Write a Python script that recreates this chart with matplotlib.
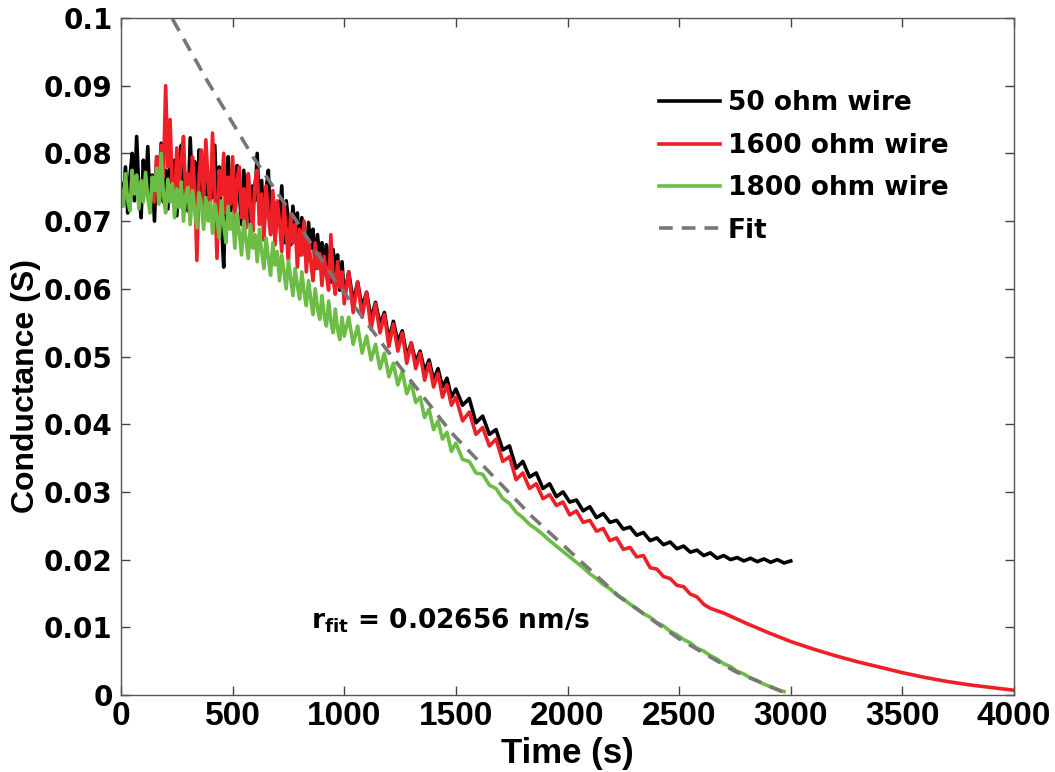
import numpy as np
import matplotlib
matplotlib.use('Agg')
import matplotlib.pyplot as plt

# --- datos ---
# 50 ohm: 0-1000 s cada 10 s, 1020-1500 s cada 20 s, 1530-3000 s cada 30 s
black_a = [0.0755, 0.0725, 0.0780, 0.0712, 0.0765, 0.0800, 0.0730, 0.0825, 0.0745, 0.0705, 0.0790,
           0.0740, 0.0810, 0.0720, 0.0768, 0.0700, 0.0795, 0.0752, 0.0815, 0.0728, 0.0775,
           0.0718, 0.0802, 0.0745, 0.0790, 0.0708, 0.0770, 0.0812, 0.0735, 0.0760, 0.0715,
           0.0823, 0.0742, 0.0788, 0.0710, 0.0805, 0.0750, 0.0725, 0.0798, 0.0702, 0.0770,
           0.0735, 0.0812, 0.0720, 0.0780, 0.0698, 0.0632, 0.0760, 0.0795, 0.0715, 0.0765,
           0.0705, 0.0782, 0.0740, 0.0695, 0.0775, 0.0720, 0.0768, 0.0690, 0.0752, 0.0730,
           0.0800, 0.0712, 0.0760, 0.0685, 0.0745, 0.0775, 0.0690, 0.0738, 0.0672, 0.0728,
           0.0695, 0.0752, 0.0668, 0.0730, 0.0700, 0.0665, 0.0722, 0.0680, 0.0712, 0.0650,
           0.0705, 0.0672, 0.0640, 0.0698, 0.0660, 0.0688, 0.0630, 0.0680, 0.0645, 0.0668,
           0.0622, 0.0665, 0.0640, 0.0610, 0.0658, 0.0625, 0.0650, 0.0598, 0.0640, 0.0588]
black_b = [0.0625, 0.0580, 0.0610, 0.0572, 0.0595, 0.0555, 0.0580, 0.0548, 0.0565, 0.0525,
           0.0552, 0.0522, 0.0538, 0.0500, 0.0520, 0.0492, 0.0508, 0.0478, 0.0495, 0.0465,
           0.0482, 0.0455, 0.0468, 0.0440, 0.0452]
black_c = [0.0428, 0.0438, 0.0402, 0.0412, 0.0385, 0.0392, 0.0362, 0.0368, 0.0335, 0.0345,
           0.0322, 0.0328, 0.0305, 0.0312, 0.0293, 0.0300, 0.0285, 0.0288, 0.0272, 0.0278,
           0.0262, 0.0268, 0.0255, 0.0258, 0.0245, 0.0248, 0.0236, 0.0240, 0.0228, 0.0232,
           0.0222, 0.0226, 0.0216, 0.0220, 0.0211, 0.0214, 0.0206, 0.0210, 0.0202, 0.0206,
           0.0200, 0.0203, 0.0198, 0.0202, 0.0197, 0.0201, 0.0196, 0.0200, 0.0195, 0.0198]

# 1600 ohm: 140-1000 s (10 s), 1020-1500 s (20 s), 1530-2610 s (30 s), 2700-4000 s (100 s)
red_a = [0.0760, 0.0728, 0.0795, 0.0740, 0.0812, 0.0765, 0.0900,
         0.0780, 0.0850, 0.0742, 0.0725, 0.0808, 0.0752, 0.0790, 0.0825, 0.0735, 0.0770,
         0.0712, 0.0795, 0.0750, 0.0642, 0.0768, 0.0805, 0.0728, 0.0820, 0.0760, 0.0715,
         0.0830, 0.0745, 0.0645, 0.0775, 0.0738, 0.0800, 0.0712, 0.0765, 0.0725, 0.0795,
         0.0700, 0.0762, 0.0780, 0.0705, 0.0748, 0.0690, 0.0770, 0.0722, 0.0685, 0.0758,
         0.0775, 0.0695, 0.0740, 0.0672, 0.0752, 0.0710, 0.0680, 0.0745, 0.0665, 0.0730,
         0.0700, 0.0655, 0.0728, 0.0682, 0.0642, 0.0710, 0.0668, 0.0695, 0.0632, 0.0688,
         0.0650, 0.0700, 0.0625, 0.0672, 0.0640, 0.0612, 0.0668, 0.0630, 0.0652, 0.0605,
         0.0648, 0.0620, 0.0598, 0.0680, 0.0615, 0.0592, 0.0640, 0.0602, 0.0625, 0.0578]
red_b = [0.0625, 0.0565, 0.0610, 0.0558, 0.0595, 0.0540, 0.0578, 0.0535, 0.0562, 0.0515,
         0.0548, 0.0508, 0.0535, 0.0490, 0.0520, 0.0482, 0.0505, 0.0465, 0.0490, 0.0455,
         0.0475, 0.0440, 0.0458, 0.0428, 0.0440]
red_c = [0.0405, 0.0418, 0.0385, 0.0395, 0.0368, 0.0378, 0.0345, 0.0352, 0.0318, 0.0328,
         0.0305, 0.0312, 0.0290, 0.0296, 0.0280, 0.0285, 0.0266, 0.0272, 0.0255, 0.0258,
         0.0242, 0.0246, 0.0228, 0.0232, 0.0215, 0.0218, 0.0204, 0.0206, 0.0188, 0.0186,
         0.0175, 0.0172, 0.0162, 0.0160, 0.0149, 0.0145, 0.0134, 0.0128]
red_d = [0.0121, 0.0106, 0.0092, 0.0079, 0.0068, 0.0058, 0.0049, 0.0041, 0.0033, 0.0026,
         0.0020, 0.0015, 0.0011, 0.0007]

# 1800 ohm: 0-1000 s (10 s), 1020-1500 s (20 s), 1530-2970 s (30 s)
green_a = [0.0745, 0.0722, 0.0770, 0.0730, 0.0715, 0.0775, 0.0740, 0.0768, 0.0718, 0.0760, 0.0728,
           0.0772, 0.0735, 0.0712, 0.0765, 0.0745, 0.0778, 0.0725, 0.0800, 0.0740, 0.0712,
           0.0762, 0.0728, 0.0755, 0.0705, 0.0748, 0.0720, 0.0758, 0.0700, 0.0738, 0.0750,
           0.0695, 0.0745, 0.0718, 0.0690, 0.0742, 0.0725, 0.0688, 0.0735, 0.0700, 0.0728,
           0.0682, 0.0725, 0.0705, 0.0675, 0.0730, 0.0695, 0.0668, 0.0722, 0.0688, 0.0710,
           0.0660, 0.0712, 0.0682, 0.0650, 0.0700, 0.0672, 0.0645, 0.0695, 0.0660, 0.0680,
           0.0640, 0.0688, 0.0655, 0.0630, 0.0675, 0.0645, 0.0620, 0.0668, 0.0635, 0.0655,
           0.0612, 0.0650, 0.0625, 0.0600, 0.0642, 0.0615, 0.0590, 0.0630, 0.0605, 0.0585,
           0.0625, 0.0595, 0.0575, 0.0612, 0.0585, 0.0562, 0.0600, 0.0572, 0.0555, 0.0590,
           0.0560, 0.0545, 0.0582, 0.0552, 0.0535, 0.0570, 0.0540, 0.0525, 0.0558, 0.0530]
green_b = [0.0558, 0.0518, 0.0545, 0.0505, 0.0530, 0.0495, 0.0518, 0.0482, 0.0505, 0.0470,
           0.0490, 0.0458, 0.0478, 0.0445, 0.0462, 0.0432, 0.0440, 0.0410, 0.0422, 0.0392,
           0.0405, 0.0378, 0.0388, 0.0360, 0.0372]
green_c = [0.0348, 0.0345, 0.0328, 0.0326, 0.0310, 0.0305, 0.0290, 0.0283, 0.0270, 0.0262,
           0.0252, 0.0245, 0.0237, 0.0228, 0.0220, 0.0212, 0.0204, 0.0196, 0.0188, 0.0179,
           0.0172, 0.0163, 0.0157, 0.0148, 0.0142, 0.0134, 0.0128, 0.0120, 0.0115, 0.0107,
           0.0102, 0.0094, 0.0089, 0.0082, 0.0077, 0.0069, 0.0065, 0.0058, 0.0053, 0.0046,
           0.0042, 0.0035, 0.0031, 0.0025, 0.0021, 0.0016, 0.0012, 0.0008, 0.0005]

# ajuste
fit_t = [150, 228, 385, 591, 780, 949, 1190, 1481, 1843, 2233, 2500, 2750, 2996]
fit_g = [0.1047, 0.1000, 0.0908, 0.0795, 0.0703, 0.0617, 0.0510, 0.0387, 0.0263, 0.0145,
         0.0083, 0.0035, 0.0]

xticks = [0, 500, 1000, 1500, 2000, 2500, 3000, 3500, 4000]
yticks = [0, 0.01, 0.02, 0.03, 0.04, 0.05, 0.06, 0.07, 0.08, 0.09, 0.1]
ylabels = ['0', '0.01', '0.02', '0.03', '0.04', '0.05', '0.06', '0.07', '0.08', '0.09', '0.1']

# tiempos de cada tramo
tb = np.r_[np.linspace(0, 1000, len(black_a)), np.linspace(1020, 1500, len(black_b)),
           np.linspace(1530, 3000, len(black_c))]
gb = np.r_[black_a, black_b, black_c]
tr = np.r_[np.linspace(140, 1000, len(red_a)), np.linspace(1020, 1500, len(red_b)),
           np.linspace(1530, 2640, len(red_c)), np.linspace(2700, 4000, len(red_d))]
gr = np.r_[red_a, red_b, red_c, red_d]
tg = np.r_[np.linspace(0, 1000, len(green_a)), np.linspace(1020, 1500, len(green_b)),
           np.linspace(1530, 2970, len(green_c))]
gg = np.r_[green_a, green_b, green_c]

fig = plt.figure(figsize=(10.55, 7.72), dpi=100)
ax = fig.add_axes([121/1055, 1 - 695/772, 893/1055, 677/772])

ax.plot(tb, gb, color='black', lw=2.6, label='50 ohm wire')
ax.plot(tr, gr, color='#ee1f26', lw=2.6, label='1600 ohm wire')
ax.plot(tg, gg, color='#6cbd45', lw=2.6, label='1800 ohm wire')
fl, = ax.plot(fit_t, fit_g, color='#777777', lw=2.6, label='Fit')
fl.set_dashes([3.8, 2.5])

ax.set_xlim(0, 4000)
ax.set_ylim(0, 0.1)
ax.set_xticks(xticks)
ax.set_yticks(yticks)
ax.set_yticklabels(ylabels)

for lab in ax.get_xticklabels():
    lab.set_family('Liberation Sans')
    lab.set_fontsize(24)
    lab.set_fontweight('bold')
for lab in ax.get_yticklabels():
    lab.set_family('DejaVu Sans')
    lab.set_fontsize(20)
    lab.set_fontweight('bold')

ax.tick_params(direction='in', length=6.5, width=1, top=True, right=True,
               colors='#444444', labelcolor='black')
ax.tick_params(axis='x', pad=4)
ax.tick_params(axis='y', pad=6)
for s in ax.spines.values():
    s.set_color('#555555')
    s.set_linewidth(1.0)

ax.set_xlabel('Time (s)', family='Liberation Sans', fontsize=25, fontweight='bold')
ax.set_ylabel('Conductance (S)', family='Liberation Sans', fontsize=23, fontweight='bold')
ax.xaxis.set_label_coords(0.5, -0.062)
ax.yaxis.set_label_coords(-0.090, 0.456)

leg = ax.legend(loc='upper left', bbox_to_anchor=(0.603, 0.893), frameon=False,
                prop={'family': 'DejaVu Sans', 'weight': 'bold', 'size': 19},
                handlelength=2.3, handletextpad=0.3, labelspacing=0.62,
                borderpad=0, borderaxespad=0)

ax.text(0.213, 0.11, r'$\mathbf{r_{fit}}$ = 0.02656 nm/s', transform=ax.transAxes,
        fontsize=19, fontweight='bold', family='DejaVu Sans', va='center')

fig.savefig('out.png', dpi=100)
